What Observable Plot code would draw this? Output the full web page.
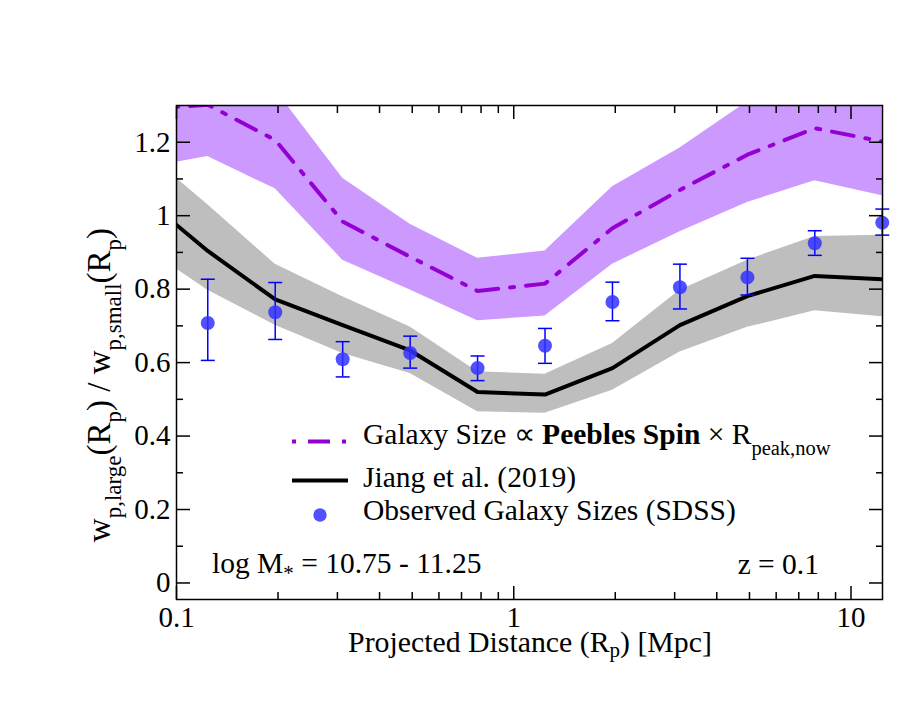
<!DOCTYPE html>
<html>
<head>
<meta charset="utf-8">
<script src="https://cdn.jsdelivr.net/npm/d3@7"></script>
<script src="https://cdn.jsdelivr.net/npm/@observablehq/plot@0.6"></script>
<style>
  html, body { margin: 0; padding: 0; background: white; }
  svg text { font-family: "Liberation Serif", "Times New Roman", serif; }
</style>
</head>
<body>
<div id="chart"></div>
<script>
// ---- data ----
const modelX   = [0.0781, 0.1238, 0.1962, 0.311, 0.493, 0.781, 1.238, 1.962, 3.11, 4.93, 7.81, 12.38];
const jiang    = [1.057, 0.904, 0.772, 0.702, 0.633, 0.520, 0.513, 0.585, 0.702, 0.781, 0.836, 0.827];
const jiangLo  = [0.922, 0.797, 0.702, 0.625, 0.570, 0.466, 0.462, 0.525, 0.629, 0.696, 0.741, 0.725];
const jiangHi  = [1.185, 1.030, 0.868, 0.779, 0.697, 0.575, 0.568, 0.652, 0.797, 0.879, 0.943, 0.947];
const peebles   = [1.289, 1.302, 1.206, 0.984, 0.888, 0.795, 0.815, 0.966, 1.070, 1.166, 1.238, 1.202];
const peeblesLo = [1.127, 1.161, 1.073, 0.879, 0.798, 0.714, 0.727, 0.868, 0.956, 1.036, 1.095, 1.054];
const peeblesHi = [1.430, 1.450, 1.343, 1.102, 0.977, 0.884, 0.904, 1.079, 1.184, 1.310, 1.380, 1.350];

const obsX  = [0.1238, 0.1962, 0.311, 0.493, 0.781, 1.238, 1.962, 3.11, 4.93, 7.81, 12.38];
const obsY  = [0.708, 0.737, 0.609, 0.626, 0.585, 0.646, 0.765, 0.805, 0.832, 0.925, 0.981];
const obsLo = [0.606, 0.663, 0.561, 0.585, 0.551, 0.598, 0.714, 0.746, 0.784, 0.892, 0.947];
const obsHi = [0.827, 0.818, 0.657, 0.672, 0.618, 0.693, 0.819, 0.868, 0.884, 0.959, 1.018];

const xMajor = [0.1, 1, 10];
const xMinor = [0.2, 0.3, 0.4, 0.5, 0.6, 0.7, 0.8, 0.9, 2, 3, 4, 5, 6, 7, 8, 9];
const yMajor = [0, 0.2, 0.4, 0.6, 0.8, 1.0, 1.2];
const yMinor = [0.1, 0.3, 0.5, 0.7, 0.9, 1.1];

// ---- tables ----
const model = modelX.map((x, i) => ({x, jl: jiang[i], jlo: jiangLo[i], jhi: jiangHi[i],
  pb: peebles[i], plo: peeblesLo[i], phi: peeblesHi[i]}));
const obs = obsX.map((x, i) => ({x, y: obsY[i], lo: obsLo[i], hi: obsHi[i]}));

const capSymbol = {draw(ctx) { ctx.moveTo(-7, 0); ctx.lineTo(7, 0); }};
const FONT = 29;
const noText = () => "";

const plot = Plot.plot({
  width: 913,
  height: 706,
  marginLeft: 176,
  marginRight: 31,
  marginTop: 105,
  marginBottom: 107,
  style: {background: "white", color: "black", fontSize: FONT + "px",
          fontFamily: '"Liberation Serif", "Times New Roman", serif'},
  x: {type: "log", domain: [0.1, 12.4]},
  y: {domain: [-0.045, 1.3]},
  marks: [
    Plot.areaY(model, {x: "x", y1: "plo", y2: "phi", fill: "#cc99ff", clip: true}),
    Plot.areaY(model, {x: "x", y1: "jlo", y2: "jhi", fill: "#bebebe", clip: true}),
    Plot.line(model, {x: "x", y: "jl", stroke: "black", strokeWidth: 4, clip: true}),
    Plot.line(model, {x: "x", y: "pb", stroke: "#9400d3", strokeWidth: 4,
      strokeDasharray: "22,12,4,12", clip: true}),
    Plot.ruleX(obs, {x: "x", y1: "lo", y2: "hi", stroke: "#0000ff", strokeWidth: 1.5}),
    Plot.dot(obs, {x: "x", y: "lo", symbol: capSymbol, stroke: "#0000ff", fill: "none", strokeWidth: 1.5}),
    Plot.dot(obs, {x: "x", y: "hi", symbol: capSymbol, stroke: "#0000ff", fill: "none", strokeWidth: 1.5}),
    Plot.dot(obs, {x: "x", y: "y", r: 7, fill: "#3333ff", fillOpacity: 0.85, stroke: "none"}),
    // inward ticks
    Plot.axisX(xMajor, {anchor: "bottom", tickSize: -13, tickFormat: noText, strokeWidth: 1.5, label: null}),
    Plot.axisX(xMinor, {anchor: "bottom", tickSize: -7, tickFormat: noText, strokeWidth: 1.5, label: null}),
    Plot.axisX(xMajor, {anchor: "top", tickSize: -13, tickFormat: noText, strokeWidth: 1.5, label: null}),
    Plot.axisX(xMinor, {anchor: "top", tickSize: -7, tickFormat: noText, strokeWidth: 1.5, label: null}),
    Plot.axisY(yMajor, {anchor: "left", tickSize: -14, tickFormat: noText, strokeWidth: 1.5, label: null}),
    Plot.axisY(yMinor, {anchor: "left", tickSize: -7, tickFormat: noText, strokeWidth: 1.5, label: null}),
    Plot.axisY(yMajor, {anchor: "right", tickSize: -14, tickFormat: noText, strokeWidth: 1.5, label: null}),
    Plot.axisY(yMinor, {anchor: "right", tickSize: -7, tickFormat: noText, strokeWidth: 1.5, label: null}),
    // tick labels
    Plot.axisX(xMajor, {anchor: "bottom", tickSize: 0, tickPadding: 7, tickFormat: d => String(d),
      fontSize: FONT, label: null}),
    Plot.axisY(yMajor, {anchor: "left", tickSize: 0, tickPadding: 6, tickFormat: d => String(+d.toFixed(1)),
      fontSize: FONT, label: null}),
    Plot.frame({stroke: "black", strokeWidth: 1.5})
  ]
});

document.getElementById("chart").appendChild(plot);

// ---- texts with sub/superscripts, legend ----
const svg = d3.select(plot);

function rich(g, parts, attrs, size = FONT, subSize = 20.5) {
  const t = g.append("text").attr("font-size", size).attr("fill", "black")
    .attr("text-anchor", "start");
  for (const [k, v] of Object.entries(attrs)) t.attr(k, v);
  let shift = 0;
  for (const p of parts) {
    const s = t.append("tspan").text(p.t);
    const want = p.sub ? p.sub : 0;
    if (want !== shift) { s.attr("dy", want - shift); shift = want; }
    if (p.sub) s.attr("font-size", subSize);
    if (p.bold) s.attr("font-weight", "bold");
  }
  return t;
}

// x label
rich(svg, [{t: "Projected Distance (R"}, {t: "p", sub: 5}, {t: ") [Mpc]"}],
  {x: 530, y: 652, "text-anchor": "middle"}, 29.8, 21);

// y label
rich(svg, [{t: "w"}, {t: "p,large", sub: 11}, {t: "(R"}, {t: "p", sub: 11}, {t: ") / w"},
           {t: "p,small", sub: 11}, {t: "(R"}, {t: "p", sub: 11}, {t: ")"}],
  {"text-anchor": "middle", transform: "translate(110,385) rotate(-90)"}, 33, 23);

// annotations
rich(svg, [{t: "log M"}, {t: "*", sub: 7}, {t: " = 10.75 - 11.25"}], {x: 212, y: 573}, 29.5, 21);
rich(svg, [{t: "z = 0.1"}], {x: 819, y: 574, "text-anchor": "end"}, 29.5);

// legend
const lg = svg.append("g");
lg.append("line").attr("x1", 292).attr("x2", 347).attr("y1", 441.5).attr("y2", 441.5)
  .attr("stroke", "#9400d3").attr("stroke-width", 4).attr("stroke-dasharray", "4,12,22,12");
rich(lg, [{t: "Galaxy Size \u221d "}, {t: "Peebles Spin", bold: true}, {t: " \u00d7 R"},
          {t: "peak,now", sub: 11}], {x: 363, y: 444}, 29.5, 20.5);
lg.append("line").attr("x1", 292).attr("x2", 348).attr("y1", 480.5).attr("y2", 480.5)
  .attr("stroke", "black").attr("stroke-width", 4);
rich(lg, [{t: "Jiang et al. (2019)"}], {x: 363, y: 486.5}, 29.5);
lg.append("circle").attr("cx", 320).attr("cy", 515).attr("r", 6.7)
  .attr("fill", "#3333ff").attr("fill-opacity", 0.85);
rich(lg, [{t: "Observed Galaxy Sizes (SDSS)"}], {x: 363, y: 520}, 29.5);
</script>
</body>
</html>
